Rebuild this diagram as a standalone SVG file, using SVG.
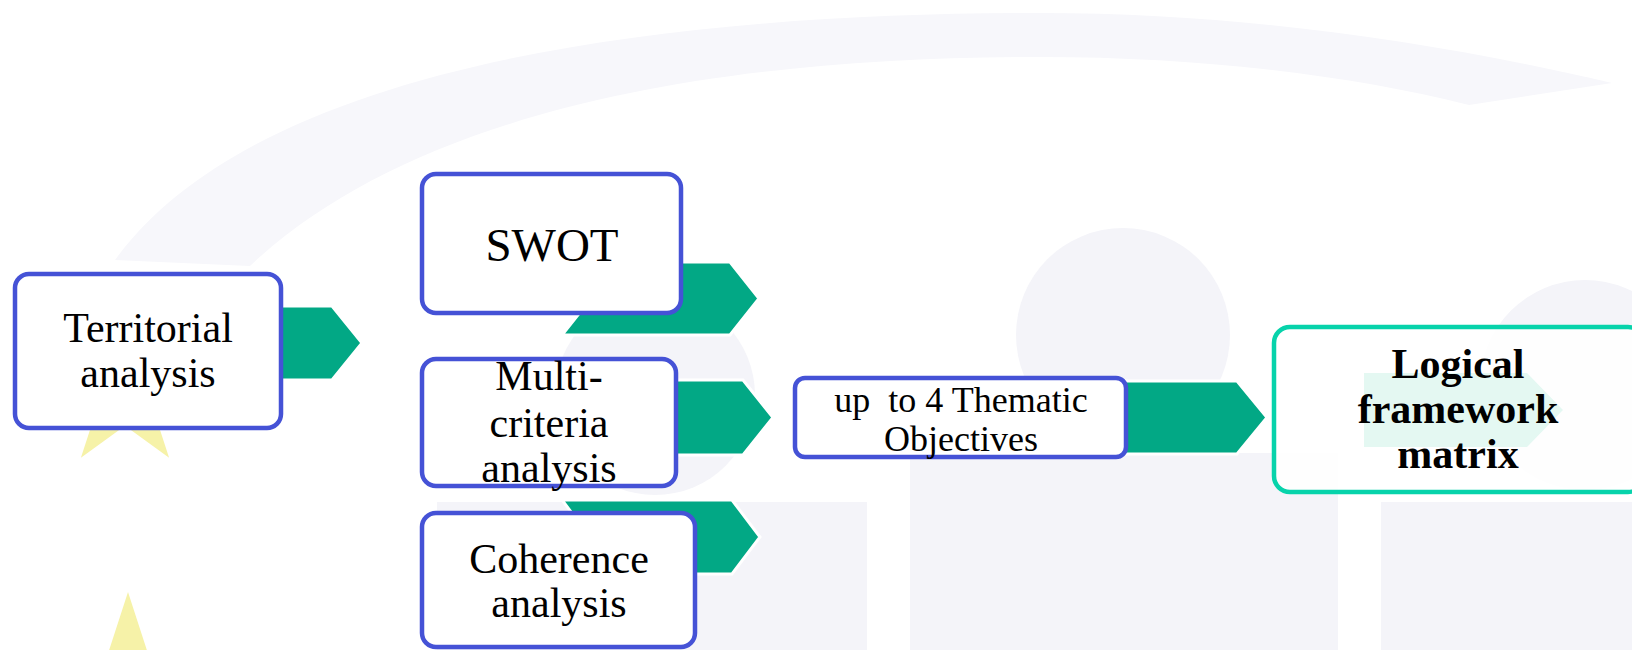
<svg xmlns="http://www.w3.org/2000/svg" width="1632" height="650" viewBox="0 0 1632 650">
  <style>
    .bg { fill: #F4F4F9; }
    .arc { fill: #F7F7FB; }
    .star { fill: #F6F2A8; }
    .arrow { fill: #02A885; stroke: #FFFFFF; stroke-width: 3; stroke-linejoin: miter; }
    .box { fill: #FFFFFF; stroke: #4552D6; stroke-width: 4.5; }
    .lbl { font-family: "Liberation Serif", "Times New Roman", serif; font-size: 42px; fill: #000000; text-anchor: middle; }
  </style>
  <rect width="1632" height="650" fill="#FFFFFF"/>
  <g id="background">
    <path class="arc" d="M115,260 C260,60 680,13 1040,13 C1250,13 1450,45 1612,83 L1469,105 C1350,75 1200,57 1040,57 C700,57 410,115 250,266 Z"/>
    <circle class="bg" cx="655" cy="395" r="100"/>
    <circle class="bg" cx="1123" cy="335" r="107"/>
    <circle class="bg" cx="1585" cy="385" r="105"/>
    <rect class="bg" x="437" y="502" width="430" height="148"/>
    <rect class="bg" x="910" y="453" width="428" height="197"/>
    <rect class="bg" x="1381" y="502" width="260" height="148"/>
    <polygon class="star" points="125,322 141.8,373.8 196.3,373.8 152.2,405.9 169.1,457.7 125,425.7 80.9,457.7 97.8,405.9 53.7,373.8 108.2,373.8"/>
    <polygon class="star" points="128,592 147.1,650.8 209,650.8 158.9,687.2 178,746 128,709.6 78,746 97.1,687.2 47,650.8 108.9,650.8"/>
  </g>
  <g id="connectors">
    <polygon class="arrow" points="268,306 332,306 362,343 332,380 268,380"/>
    <polygon class="arrow" points="562,262 730,262 759,298.5 730,335 562,335 591,298.5"/>
    <polygon class="arrow" points="665,380 743,380 773,417.5 743,455 665,455"/>
    <polygon class="arrow" points="562,500 732,500 760,537 732,574 562,574 590,537"/>
    <polygon class="arrow" points="1115,381 1237,381 1267,417.5 1237,454 1115,454"/>
  </g>
  <g id="node-territorial">
    <rect class="box" x="15" y="274" width="266" height="154" rx="14"/>
    <text class="lbl" x="148" y="342">Territorial</text>
    <text class="lbl" x="148" y="387">analysis</text>
  </g>
  <g id="node-swot">
    <rect class="box" x="422" y="174" width="259" height="139" rx="14"/>
    <text class="lbl" x="552" y="261" style="font-size:47px">SWOT</text>
  </g>
  <g id="node-multicriteria">
    <rect class="box" x="422" y="359" width="254" height="127" rx="14"/>
    <text class="lbl" x="549" y="390">Multi-</text>
    <text class="lbl" x="549" y="437">criteria</text>
    <text class="lbl" x="549" y="482">analysis</text>
  </g>
  <g id="node-coherence">
    <rect class="box" x="422" y="513" width="273" height="134" rx="14"/>
    <text class="lbl" x="559" y="573">Coherence</text>
    <text class="lbl" x="559" y="617">analysis</text>
  </g>
  <g id="node-thematic">
    <rect class="box" x="795" y="378" width="331" height="79" rx="10"/>
    <text class="lbl" x="961" y="412" style="font-size:36px" xml:space="preserve">up  to 4 Thematic</text>
    <text class="lbl" x="961" y="451" style="font-size:36px">Objectives</text>
  </g>
  <g id="node-logical">
    <rect x="1274" y="327" width="370" height="165" rx="16" fill="#FFFFFF" fill-opacity="0.85" stroke="#07D3AB" stroke-width="4.5"/>
    <polygon points="1364,373 1527,373 1563,410 1527,447 1364,447" fill="#E4F8F2"/>
    <text class="lbl" x="1458" y="378" font-weight="bold">Logical</text>
    <text class="lbl" x="1458" y="423" font-weight="bold">framework</text>
    <text class="lbl" x="1458" y="468" font-weight="bold">matrix</text>
  </g>
</svg>
